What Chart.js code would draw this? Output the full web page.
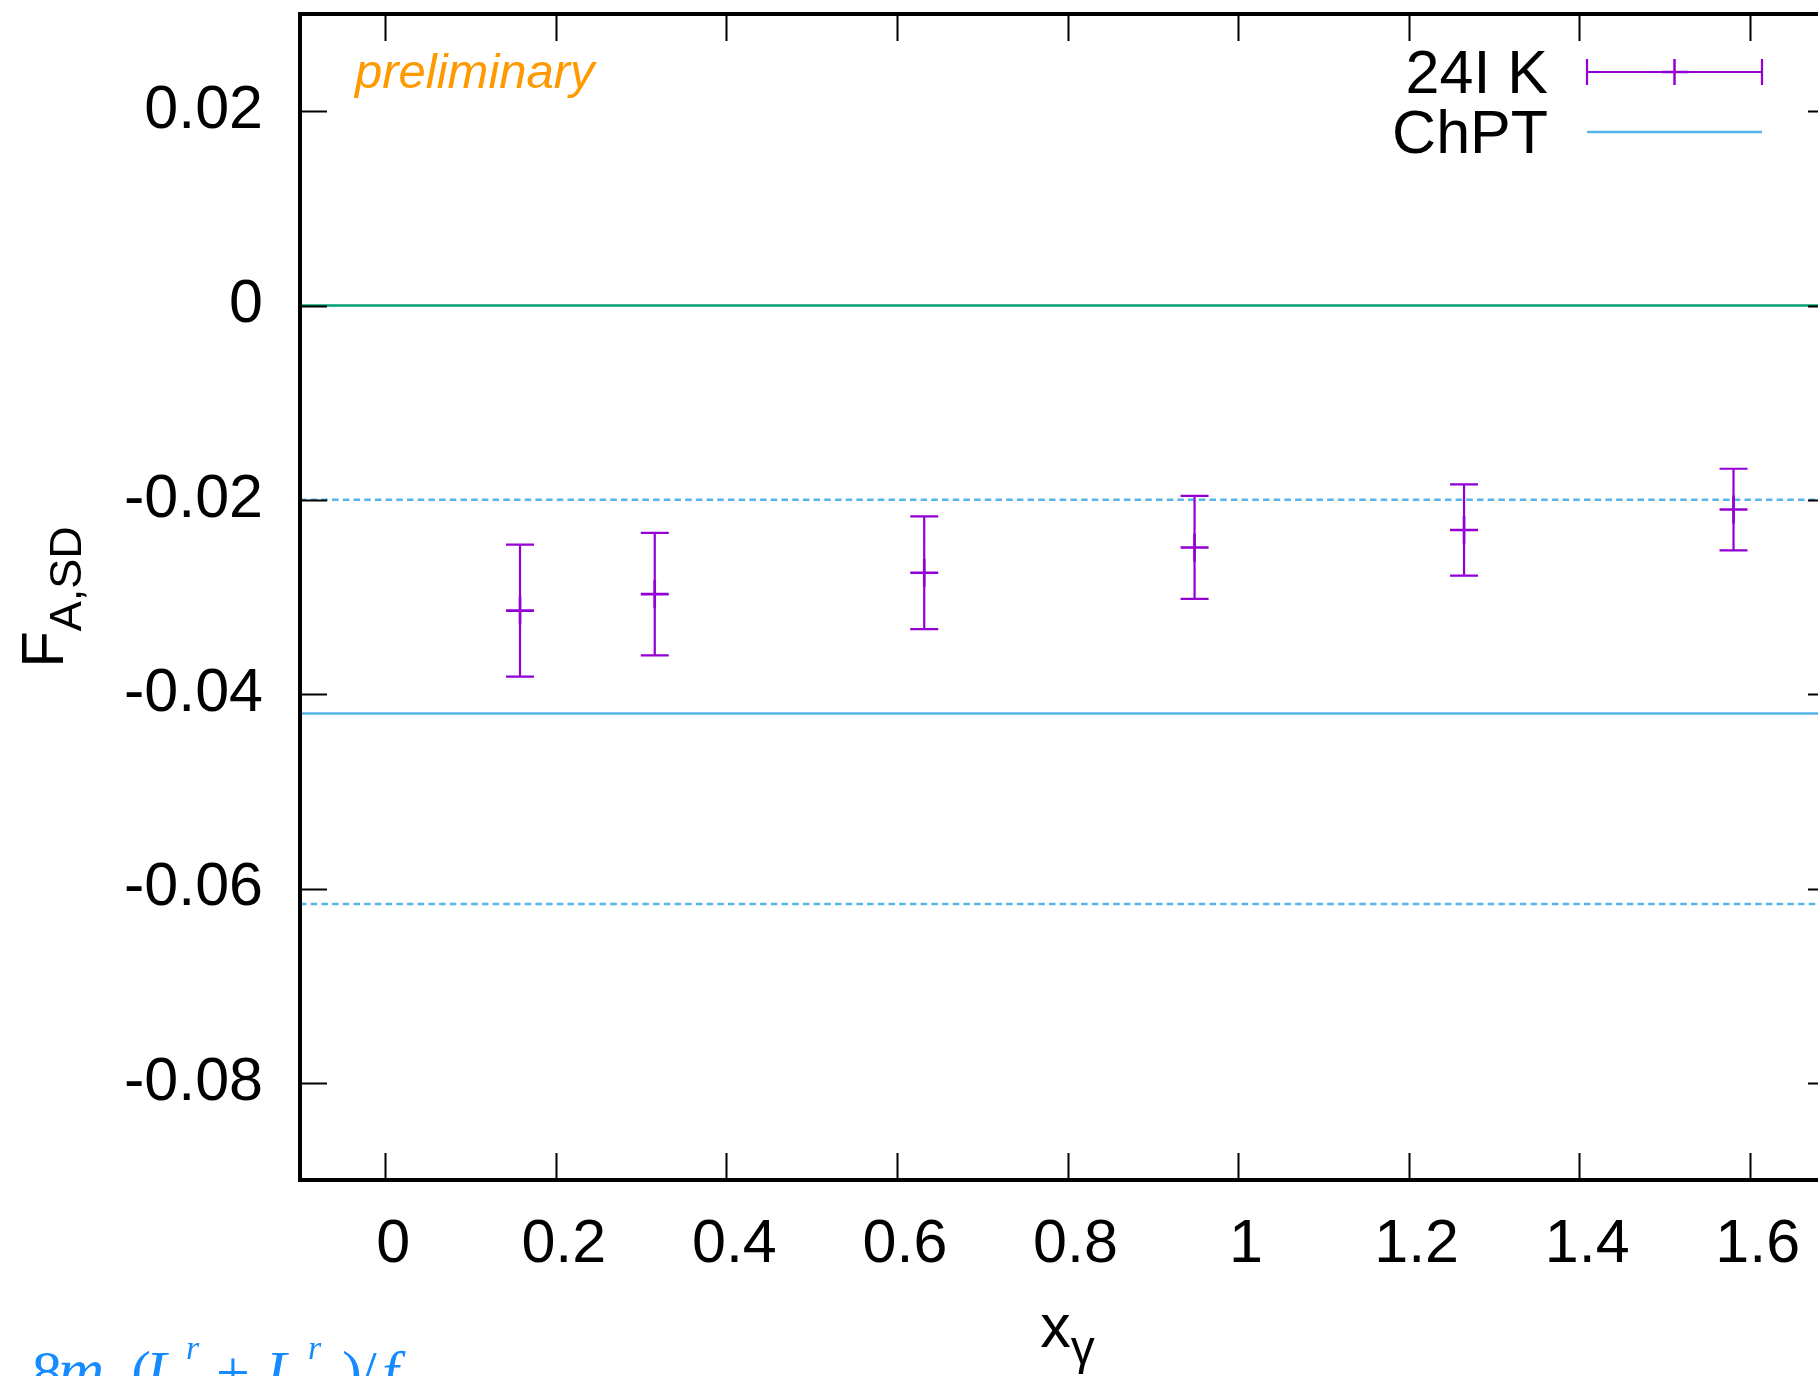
<!DOCTYPE html>
<html>
<head>
<meta charset="utf-8">
<title>F_A,SD vs x_gamma</title>
<script src="https://cdn.jsdelivr.net/npm/chart.js@4.4.1/dist/chart.umd.min.js"></script>
<style>
  html, body { margin: 0; padding: 0; background: #ffffff; overflow: hidden; }
  #wrap { width: 1818px; height: 1376px; overflow: hidden; position: relative; }
  canvas { display: block; }
</style>
</head>
<body>
<div id="wrap"><canvas id="chart" width="1840" height="1376" style="width:1840px;height:1376px"></canvas></div>
<script>
// Lattice results (24I ensemble, kaon): photon energy fraction and form factor
const xGamma = [0.158, 0.316, 0.632, 0.949, 1.265, 1.581];
const fASD   = [-0.0314, -0.0297, -0.0275, -0.0249, -0.0231, -0.0210];
const fASDErr = [0.0068, 0.0063, 0.0058, 0.0053, 0.0047, 0.0042];

// ChPT prediction: central value and the edges of its band
const chptCentral = -0.0420;
const chptUpper   = -0.0200;
const chptLower   = -0.0616;
const zeroLevel   = 0;

// Axis ranges and ticks
const xRange = [-0.1, 1.7];
const yRange = [-0.09, 0.03];
const xTickValues = [0, 0.2, 0.4, 0.6, 0.8, 1.0, 1.2, 1.4, 1.6];
const xTickLabels = ['0', '0.2', '0.4', '0.6', '0.8', '1', '1.2', '1.4', '1.6'];
const yTickValues = [-0.08, -0.06, -0.04, -0.02, 0, 0.02];
const yTickLabels = ['-0.08', '-0.06', '-0.04', '-0.02', '0', '0.02'];

const seriesLabel = '24I K';
const chptLabel = 'ChPT';

const PURPLE = '#9400d3';
const GREEN  = '#009e73';
const BLUE   = '#56b4e9';
const ORANGE = '#ff9900';
const SANS   = '"Liberation Sans", Arial, Helvetica, sans-serif';
const SERIF  = '"Liberation Serif", "Times New Roman", serif';

const hline = (yv) => [{ x: xRange[0], y: yv }, { x: xRange[1], y: yv }];

// Vertical error bars with caps, drawn through the scales
const errorBars = {
  id: 'errorBars',
  afterDatasetsDraw(chart) {
    const { ctx, scales: { x, y } } = chart;
    const cap = 14;
    ctx.save();
    ctx.strokeStyle = PURPLE;
    ctx.lineWidth = 2.2;
    ctx.beginPath();
    xGamma.forEach((xv, i) => {
      const px = x.getPixelForValue(xv);
      const top = y.getPixelForValue(fASD[i] + fASDErr[i]);
      const bot = y.getPixelForValue(fASD[i] - fASDErr[i]);
      ctx.moveTo(px, top); ctx.lineTo(px, bot);
      ctx.moveTo(px - cap, top); ctx.lineTo(px + cap, top);
      ctx.moveTo(px - cap, bot); ctx.lineTo(px + cap, bot);
    });
    ctx.stroke();
    ctx.restore();
  }
};

// Frame, mirrored inward ticks, titles, legend and annotations
const decorations = {
  id: 'decorations',
  afterDraw(chart) {
    const { ctx, chartArea: a, scales: { x, y } } = chart;
    const tl = 27;
    ctx.save();

    // inward ticks on all four sides
    ctx.strokeStyle = '#000';
    ctx.lineWidth = 2;
    ctx.beginPath();
    xTickValues.forEach(v => {
      const px = Math.round(x.getPixelForValue(v)) + 0.5;
      ctx.moveTo(px, a.bottom); ctx.lineTo(px, a.bottom - tl);
      ctx.moveTo(px, a.top); ctx.lineTo(px, a.top + tl);
    });
    yTickValues.forEach(v => {
      const py = Math.round(y.getPixelForValue(v)) + 0.5;
      ctx.moveTo(a.left, py); ctx.lineTo(a.left + tl, py);
      ctx.moveTo(a.right, py); ctx.lineTo(a.right - tl, py);
    });
    ctx.stroke();

    // frame
    ctx.lineWidth = 4;
    ctx.strokeRect(a.left, a.top, a.right - a.left, a.bottom - a.top);

    // y-axis title F_{A,SD}
    ctx.fillStyle = '#000';
    ctx.textBaseline = 'alphabetic';
    ctx.textAlign = 'left';
    ctx.font = '60px ' + SANS;
    const wMain = ctx.measureText('F').width;
    ctx.font = '45px ' + SANS;
    const wSub = ctx.measureText('A,SD').width;
    const yc = (a.top + a.bottom) / 2;
    ctx.save();
    ctx.translate(63, yc + (wMain + wSub) / 2);
    ctx.rotate(-Math.PI / 2);
    ctx.font = '60px ' + SANS;
    ctx.fillText('F', 0, 0);
    ctx.font = '45px ' + SANS;
    ctx.fillText('A,SD', wMain, 18);
    ctx.restore();

    // x-axis title x_gamma
    ctx.font = '61px ' + SANS;
    const wx = ctx.measureText('x').width;
    ctx.font = '48px ' + SANS;
    const wg = ctx.measureText('γ').width;
    const xc = (a.left + a.right) / 2;
    const x0 = xc - (wx + wg) / 2;
    ctx.font = '61px ' + SANS;
    ctx.fillText('x', x0, 1347);
    ctx.font = '48px ' + SANS;
    ctx.fillText('γ', x0 + wx, 1364);

    // preliminary tag
    ctx.fillStyle = ORANGE;
    ctx.font = 'italic 49px ' + SANS;
    ctx.fillText('preliminary', 355, 88);

    // legend
    const ds = chart.data.datasets;
    const sx0 = 1587, sx1 = 1762, smid = (sx0 + sx1) / 2;
    const r1 = 72, r2 = 132;
    ctx.fillStyle = '#000';
    ctx.font = '61px ' + SANS;
    ctx.textAlign = 'right';
    ctx.fillText(ds[0].label, 1548, r1 + 21);
    ctx.fillText(ds[2].label, 1548, r2 + 21);
    ctx.strokeStyle = PURPLE;
    ctx.lineWidth = 2.2;
    ctx.beginPath();
    ctx.moveTo(sx0, r1); ctx.lineTo(sx1, r1);
    ctx.moveTo(sx0, r1 - 13); ctx.lineTo(sx0, r1 + 13);
    ctx.moveTo(sx1, r1 - 13); ctx.lineTo(sx1, r1 + 13);
    ctx.stroke();
    ctx.lineWidth = 2.5;
    ctx.beginPath();
    ctx.moveTo(smid, r1 - 13); ctx.lineTo(smid, r1 + 13);
    ctx.moveTo(smid - 13, r1); ctx.lineTo(smid + 13, r1);
    ctx.stroke();
    ctx.strokeStyle = BLUE;
    ctx.lineWidth = 2.5;
    ctx.beginPath();
    ctx.moveTo(sx0, r2); ctx.lineTo(sx1, r2);
    ctx.stroke();

    // ChPT formula caption along the lower edge
    ctx.textAlign = 'left';
    ctx.fillStyle = '#158bff';
    const base = 1392;
    const it = (s, px, size, dy) => { ctx.font = 'italic ' + size + 'px ' + SERIF; ctx.fillText(s, px, base + dy); };
    const up = (s, px, size, dy) => { ctx.font = size + 'px ' + SERIF; ctx.fillText(s, px, base + dy); };
    up('8', 32, 60, 0);
    it('m', 58, 64, 0);
    it('K', 104, 40, 18);
    up('(', 131, 60, 0);
    it('L', 146, 60, 0);
    it('r', 186, 34, -33);
    up('9', 182, 38, 18);
    up('+', 216, 60, 0);
    it('L', 266, 60, 0);
    it('r', 308, 34, -33);
    up('10', 302, 38, 18);
    up(')', 342, 60, 0);
    up('/', 360, 60, 0);
    it('f', 382, 60, 0);
    it('K', 406, 40, 18);

    ctx.restore();
  }
};

// Drop the edge padding Chart.js reserves for half-labels so the plot box is set by the axes only
const noEdgePadding = (s) => { s.paddingTop = 0; s.paddingBottom = 0; s.paddingLeft = 0; s.paddingRight = 0; };

const ctx = document.getElementById('chart').getContext('2d');
new Chart(ctx, {
  type: 'scatter',
  data: {
    datasets: [
      {
        label: seriesLabel,
        data: xGamma.map((xv, i) => ({ x: xv, y: fASD[i] })),
        pointStyle: 'cross',
        pointRadius: 14,
        pointHoverRadius: 14,
        borderColor: PURPLE,
        backgroundColor: PURPLE,
        borderWidth: 2.6,
        order: 0
      },
      {
        label: 'zero',
        data: hline(zeroLevel),
        showLine: true,
        borderColor: GREEN,
        borderWidth: 2.5,
        pointRadius: 0,
        order: 1
      },
      {
        label: chptLabel,
        data: hline(chptCentral),
        showLine: true,
        borderColor: BLUE,
        borderWidth: 2.5,
        pointRadius: 0,
        order: 1
      },
      {
        label: 'ChPT upper',
        data: hline(chptUpper),
        showLine: true,
        borderColor: BLUE,
        borderWidth: 2.5,
        borderDash: [6.5, 4.2],
        pointRadius: 0,
        order: 1
      },
      {
        label: 'ChPT lower',
        data: hline(chptLower),
        showLine: true,
        borderColor: BLUE,
        borderWidth: 2.5,
        borderDash: [6.5, 4.2],
        pointRadius: 0,
        order: 1
      }
    ]
  },
  options: {
    responsive: false,
    animation: false,
    devicePixelRatio: 1,
    layout: { autoPadding: false, padding: { top: 14, right: 5, left: 0, bottom: 0 } },
    plugins: { legend: { display: false }, tooltip: { enabled: false } },
    scales: {
      x: {
        type: 'linear',
        min: xRange[0],
        max: xRange[1],
        grid: { display: false, drawTicks: false },
        border: { display: false },
        afterBuildTicks: (s) => { s.ticks = xTickValues.map(v => ({ value: v })); },
        afterFit: (s) => { s.height = 196; noEdgePadding(s); },
        ticks: {
          autoSkip: false,
          maxRotation: 0,
          padding: 29,
          labelOffset: 8,
          color: '#000',
          font: { family: SANS, size: 61 },
          callback: (v, i) => xTickLabels[i]
        }
      },
      y: {
        type: 'linear',
        min: yRange[0],
        max: yRange[1],
        grid: { display: false, drawTicks: false },
        border: { display: false },
        afterBuildTicks: (s) => { s.ticks = yTickValues.map(v => ({ value: v })); },
        afterFit: (s) => { s.width = 300; noEdgePadding(s); },
        ticks: {
          autoSkip: false,
          padding: 37,
          color: '#000',
          font: { family: SANS, size: 61 },
          callback: (v, i) => yTickLabels[i]
        }
      }
    }
  },
  plugins: [errorBars, decorations]
});
</script>
</body>
</html>
